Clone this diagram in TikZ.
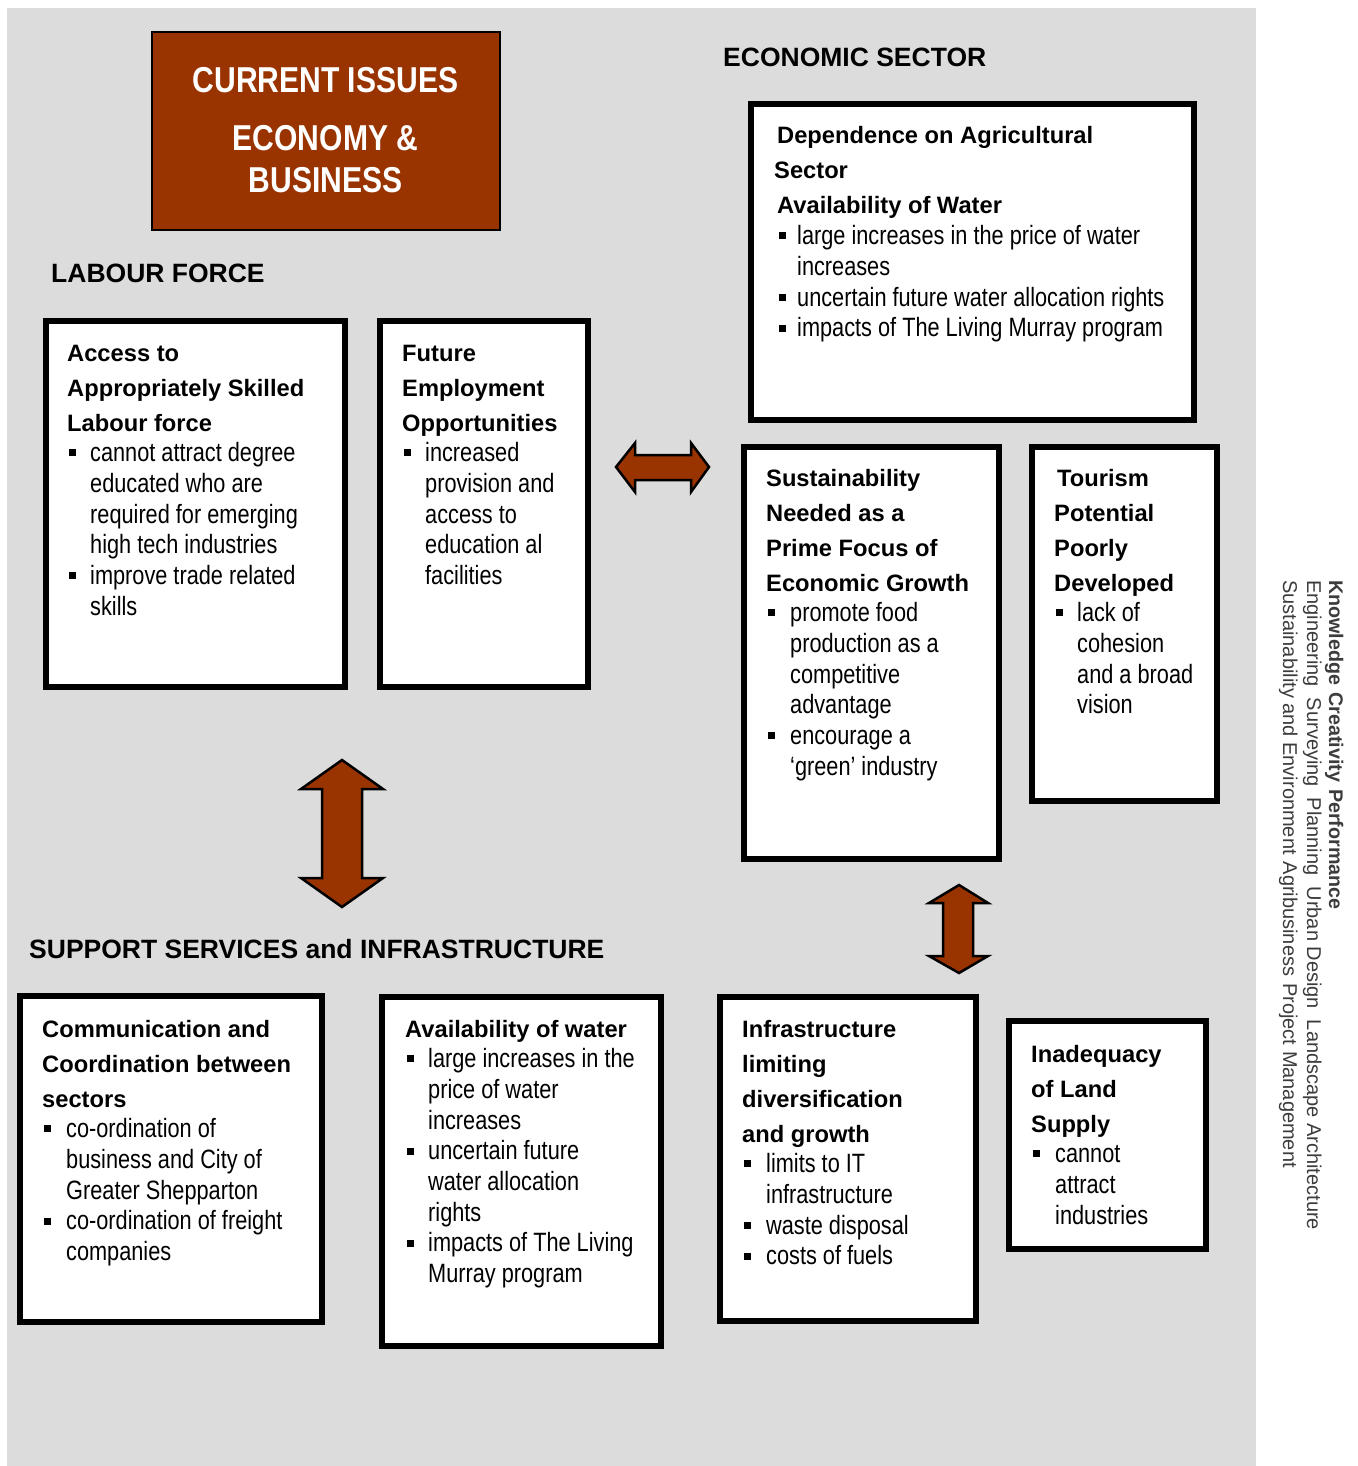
\documentclass[tikz,border=0pt]{standalone}
\usepackage{fontspec}
\setmainfont{Liberation Sans}
\newfontfamily\narrowfont[FakeStretch=0.82]{Liberation Sans}
\newfontfamily\titlefont[FakeStretch=0.835]{Liberation Sans}

\definecolor{rust}{HTML}{993300}
\definecolor{panelgray}{HTML}{DCDCDC}
\definecolor{sidegray}{HTML}{3C3C3C}

% heading and body text settings
\newcommand\hd{\fontsize{23.7bp}{35bp}\selectfont\bfseries}
\newcommand\bd{\fontsize{26.5bp}{30.7bp}\narrowfont\mdseries\selectfont}
\newcommand\itm[1]{\par\hangindent=#1\hangafter=1\noindent
  \makebox[#1][l]{\hspace*{2bp}\rule[5.3bp]{7bp}{7bp}}}
\newcommand\boxtext[1]{\parbox[t]{520bp}{\lineskiplimit=-100bp\parindent=0pt #1\par}}

\tikzset{
  framebox/.style={draw=black, fill=white, line width=6bp, inner sep=0pt, outer sep=0pt,
    anchor=north west},
  txt/.style={anchor=base west, inner sep=0pt, text=black},
  sechead/.style={anchor=base west, inner sep=0pt, font=\fontsize{26.5bp}{30bp}\selectfont\bfseries},
  blockarrow/.style={fill=rust, draw=black, line width=2.5bp, line join=miter},
  sideline/.style={anchor=base west, inner sep=0pt, rotate=-90, text=sidegray,
    font=\fontsize{20bp}{23bp}\selectfont},
}

\begin{document}
\begin{tikzpicture}[x=1bp, y=-1bp]
\useasboundingbox (0,0) rectangle (1358,1466);
\fill[white] (0,0) rectangle (1358,1466);
\fill[panelgray] (7,8) rectangle (1256,1466);

% title block
\node[draw=black, fill=rust, line width=2bp, inner sep=0pt, outer sep=0pt, anchor=north west,
  minimum width=348bp, minimum height=198bp] (title) at (152,32) {};
\node[anchor=base, inner sep=0pt, text=white] (titletxt) at (325.5,92.7)
  {\parbox[t]{340bp}{\centering\titlefont\bfseries\fontsize{36bp}{42.3bp}\selectfont
   CURRENT ISSUES\\[15.7bp] ECONOMY \&\\ BUSINESS\par}};

% section headings
\node[sechead] (econhead) at (723,66.5) {ECONOMIC SECTOR};
\node[sechead] (labhead) at (51,282.5) {LABOUR FORCE};
\node[sechead] (suphead) at (29,958.5) {SUPPORT SERVICES and INFRASTRUCTURE};

% frames
\node[framebox, minimum width=299bp, minimum height=366bp] (accbox) at (46,321) {};
\node[framebox, minimum width=208bp, minimum height=366bp] (futbox) at (380,321) {};
\node[framebox, minimum width=443bp, minimum height=316bp] (depbox) at (751,104) {};
\node[framebox, minimum width=255bp, minimum height=412bp] (susbox) at (744,447) {};
\node[framebox, minimum width=185bp, minimum height=354bp] (toubox) at (1032,447) {};
\node[framebox, minimum width=302bp, minimum height=326bp] (combox) at (20,996) {};
\node[framebox, minimum width=279bp, minimum height=349bp] (avabox) at (382,997) {};
\node[framebox, minimum width=256bp, minimum height=324bp] (infbox) at (720,997) {};
\node[framebox, minimum width=197bp, minimum height=228bp] (inabox) at (1009,1021) {};

% frame contents
\node[txt] (acctxt) at (67,361) {\boxtext{\hd Access to\\Appropriately Skilled\\Labour force\par
  \bd\itm{23bp}cannot attract degree\\educated who are\\required for emerging\\high tech industries
  \itm{23bp}improve trade related\\skills}};

\node[txt] (futtxt) at (402,361) {\boxtext{\hd Future\\Employment\\Opportunities\par
  \bd\itm{23bp}increased\\provision and\\access to\\education al\\facilities}};

\node[txt] (deptxt) at (777,144) {\boxtext{\hd Dependence on Agricultural\\\hspace*{-3bp}Sector\\Availability of Water\par
  \bd\itm{20bp}large increases in the price of water\\increases
  \itm{20bp}uncertain future water allocation rights
  \itm{20bp}impacts of The Living Murray program}};

\node[txt] (sustxt) at (766,486) {\boxtext{\hd Sustainability\\Needed as a\\Prime Focus of\\Economic Growth\par
  \bd\itm{24bp}promote food\\production as a\\competitive\\advantage
  \itm{24bp}encourage a\\‘green’ industry}};

\node[txt] (toutxt) at (1054,486) {\boxtext{\hd \hspace*{3bp}Tourism\\Potential\\Poorly\\Developed\par
  \bd\itm{23bp}lack of\\cohesion\\and a broad\\vision}};

\node[txt] (comtxt) at (42,1037) {\boxtext{\hd Communication and\\Coordination between\\sectors\par
  \bd\itm{24bp}co-ordination of\\business and City of\\Greater Shepparton
  \itm{24bp}co-ordination of freight\\companies}};

\node[txt] (avatxt) at (405,1037) {\boxtext{\hd Availability of water\par
  \bd\itm{23bp}large increases in the\\price of water\\increases
  \itm{23bp}uncertain future\\water allocation\\rights
  \itm{23bp}impacts of The Living\\Murray program}};

\node[txt] (inftxt) at (742,1037) {\boxtext{\hd Infrastructure\\limiting\\diversification\\and growth\par
  \bd\itm{24bp}limits to IT\\infrastructure
  \itm{24bp}waste disposal
  \itm{24bp}costs of fuels}};

\node[txt] (inatxt) at (1031,1062) {\boxtext{\hd Inadequacy\\of Land\\Supply\par
  \bd\itm{24bp}cannot\\attract\\industries}};

% two-way block arrows
\draw[blockarrow] (616,467) -- (635,443) -- (635,455) -- (691,455) -- (691,443) -- (709,467)
  -- (691,492) -- (691,480) -- (635,480) -- (635,492) -- cycle;
\draw[blockarrow] (342,760) -- (383,789) -- (362,789) -- (362,878) -- (383,878) -- (342,907)
  -- (301,878) -- (322,878) -- (322,789) -- (301,789) -- cycle;
\draw[blockarrow] (959,885) -- (988,903) -- (973,903) -- (973,956) -- (988,956) -- (959,973)
  -- (929,956) -- (943,956) -- (943,903) -- (929,903) -- cycle;

% vertical side lines
\node[sideline, font=\fontsize{19.7bp}{23bp}\selectfont\bfseries] (side1) at (1329,580)
  {Knowledge\hspace{7bp}Creativity\hspace{7bp}Performance};
\node[sideline] (side2) at (1307,580)
  {Engineering\hspace{11bp}Surveying\hspace{11bp}Planning\hspace{11bp}Urban Design\hspace{11bp}Landscape Architecture};
\node[sideline] (side3) at (1283,580)
  {Sustainability and Environment\hspace{7bp}Agribusiness\hspace{7bp}Project Management};
\end{tikzpicture}
\end{document}
